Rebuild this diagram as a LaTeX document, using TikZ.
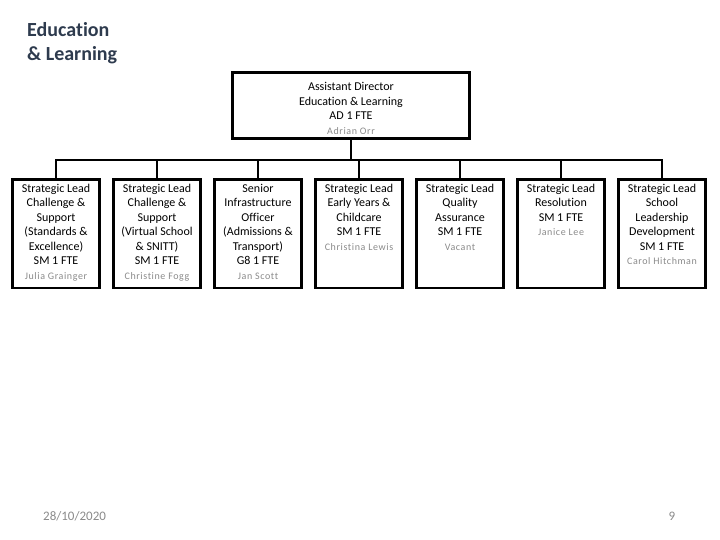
\documentclass[tikz,border=0pt]{standalone}
\usepackage{fontspec}
\setmainfont[Ligatures=NoCommon]{Carlito}
\usetikzlibrary{positioning}
\definecolor{titleslate}{HTML}{2E3B4E}
\definecolor{namegray}{HTML}{8A8A8A}
\newfontfamily\spacedfont[LetterSpace=6,Ligatures=NoCommon]{Carlito}
\newcommand{\namefont}{\color{namegray}\spacedfont\fontsize{10}{14.5}\selectfont}
\newcommand{\postbox}[2]{\parbox[t][100pt][t]{84pt}{\centering #1\\{\namefont #2}}}
\tikzset{
  post/.style={draw, line width=2.6pt, anchor=north, minimum width=87pt,
    minimum height=108pt, inner xsep=1.5pt, inner ysep=4pt,
    font=\fontsize{12}{14.5}\selectfont},
  head/.style={draw, line width=2.6pt, minimum width=237pt, minimum height=66pt,
    inner xsep=3pt, inner ysep=4pt, font=\fontsize{12}{14.5}\selectfont},
  link/.style={line width=2.6pt}
}
\begin{document}
\begin{tikzpicture}[x=1pt,y=-1pt]
  \useasboundingbox (0,0) rectangle (720,540);
  \node[anchor=north west, inner sep=0pt, align=left, text=titleslate,
    font=\fontsize{20}{24}\selectfont\bfseries] (title) at (27,22)
    {Education\\\& Learning};
  \node[head] (ad) at (351,105.5)
    {\parbox[t][58pt][t]{230pt}{\centering\rule{0pt}{14.5pt}Assistant Director\\Education \& Learning\\AD 1 FTE\\{\namefont Adrian Orr}}};
  \coordinate (bar) at (351,160);
  \node[post] (sl1) at (56,178.5)
    {\postbox{Strategic Lead\\Challenge \&\\Support\\(Standards \&\\Excellence)\\SM 1 FTE}{Julia Grainger}};
  \node[post] (sl2) at (157,178.5)
    {\postbox{Strategic Lead\\Challenge \&\\Support\\(Virtual School\\\& SNITT)\\SM 1 FTE}{Christine Fogg}};
  \node[post] (sio) at (258,178.5)
    {\postbox{Senior\\Infrastructure\\Officer\\(Admissions \&\\Transport)\\G8 1 FTE}{Jan Scott}};
  \node[post] (sl4) at (359,178.5)
    {\postbox{Strategic Lead\\Early Years \&\\Childcare\\SM 1 FTE}{Christina Lewis}};
  \node[post] (sl5) at (460,178.5)
    {\postbox{Strategic Lead\\Quality\\Assurance\\SM 1 FTE}{Vacant}};
  \node[post] (sl6) at (561,178.5)
    {\postbox{Strategic Lead\\Resolution\\SM 1 FTE}{Janice Lee}};
  \node[post] (sl7) at (662,178.5)
    {\postbox{Strategic Lead\\School\\Leadership\\Development\\SM 1 FTE}{Carol Hitchman}};
  \begin{scope}[link]
    \draw (ad.south) -- (bar);
    \draw (bar) -| (sl1.north);
    \draw (bar) -| (sl2.north);
    \draw (bar) -| (sio.north);
    \draw (bar) -| (sl4.north);
    \draw (bar) -| (sl5.north);
    \draw (bar) -| (sl6.north);
    \draw (bar) -| (sl7.north);
  \end{scope}
  \node[anchor=base west, inner sep=0pt, text=namegray,
    font=\fontsize{13}{15}\selectfont] (date) at (43,520) {28/10/2020};
  \node[anchor=base, inner sep=0pt, text=namegray,
    font=\fontsize{13}{15}\selectfont] (page) at (672,520) {9};
\end{tikzpicture}
\end{document}
